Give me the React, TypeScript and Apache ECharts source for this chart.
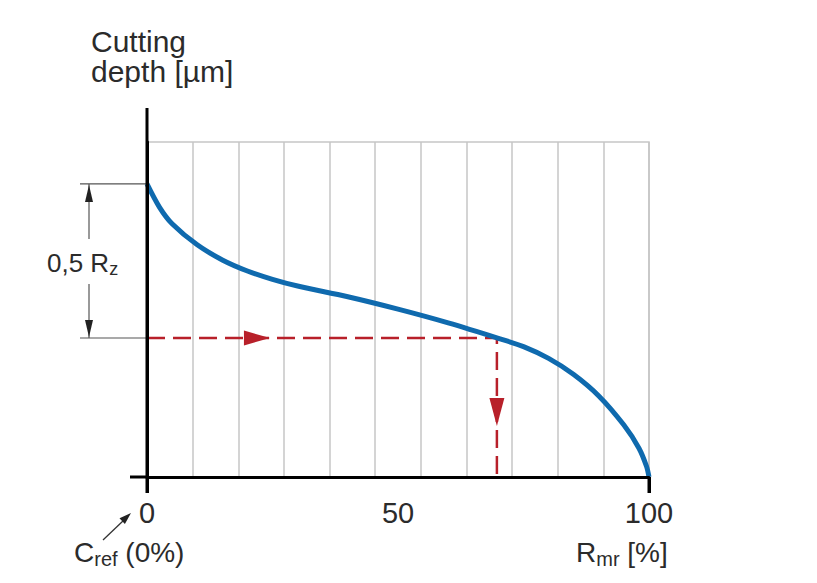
import React, { useEffect, useRef } from "react";
import * as echarts from "echarts";

// Curve: material ratio (%) vs. cutting depth (relative units, 0 = bottom)
const curveX = [0, 2.5, 5, 10, 15, 20, 25, 30, 40, 50, 60, 70, 75, 80, 85, 90, 95, 98, 99.5, 100];
const curveY = [87.5, 80.5, 75.6, 69.3, 64.8, 61.5, 59.0, 57.0, 53.8, 50.1, 46.0, 41.4, 38.9, 35.4, 30.6, 24.2, 15.5, 8.6, 3.2, 0];
const cutX = 69.7; // Rmr at reference cut
const cutY = 41.5; // reference cut depth (0,5 Rz below top)
const topY = 87.5; // top of profile
const arrowRightX = 21.9;
const arrowDownY = 19.4;
const xTicks = [0, 50, 100];
const gridColumns = 11;

const FONT = "'Liberation Sans', Arial, Helvetica, sans-serif";
const TXT = "#2b2b2b";
const RED = "#b8202a";
const BLUE = "#0f6aae";
const GRAY = "#c6c6c6";

export default function App() {
  const ref = useRef<HTMLDivElement>(null);
  useEffect(() => {
    if (!ref.current) return;
    const chart = echarts.init(ref.current, null, { renderer: "svg" });
    chart.setOption({
      animation: false,
      backgroundColor: "#ffffff",
      textStyle: { fontFamily: FONT, color: TXT },
      grid: {
        left: 147,
        top: 142,
        width: 502,
        height: 335,
        show: true,
        borderColor: GRAY,
        borderWidth: 1.5,
        backgroundColor: "transparent",
      },
      xAxis: [
        {
          type: "value",
          min: 0,
          max: 100,
          interval: 50,
          axisLine: { show: true, onZero: false, lineStyle: { color: "#000", width: 3 } },
          axisTick: { show: true, customValues: [xTicks[0], xTicks[2]], length: 16, lineStyle: { color: "#000", width: 3 } },
          axisLabel: { show: true, fontSize: 29, color: TXT, margin: 21, fontFamily: FONT, customValues: xTicks },
          splitLine: { show: false },
          z: 5,
        },
        {
          type: "value",
          min: 0,
          max: gridColumns,
          interval: 1,
          position: "bottom",
          axisLine: { show: false },
          axisTick: { show: false },
          axisLabel: { show: false },
          splitLine: { show: true, lineStyle: { color: GRAY, width: 1.5 } },
        },
      ],
      yAxis: {
        type: "value",
        min: 0,
        max: 100,
        axisLine: { show: true, onZero: false, lineStyle: { color: "#000", width: 3 } },
        axisTick: { show: false },
        axisLabel: { show: false },
        splitLine: { show: false },
        z: 5,
      },
      series: [
        {
          type: "line",
          name: "cut",
          xAxisIndex: 0,
          data: [[0, cutY], [cutX, cutY], [cutX, 0]],
          symbol: "none",
          silent: true,
          lineStyle: { color: RED, width: 2.5, type: [18, 8] },
          z: 2,
        },
        {
          type: "scatter",
          xAxisIndex: 0,
          silent: true,
          symbol: "triangle",
          itemStyle: { color: RED, opacity: 1 },
          data: [
            { value: [arrowRightX, cutY], symbolRotate: -90, symbolSize: [15, 26] },
            { value: [cutX, arrowDownY], symbolRotate: 180, symbolSize: [15, 28] },
          ],
          z: 3,
        },
        {
          type: "line",
          name: "curve",
          xAxisIndex: 0,
          data: curveX.map((x, i) => [x, curveY[i]]),
          smooth: 0.3,
          symbol: "none",
          silent: true,
          lineStyle: { color: BLUE, width: 5 },
          z: 4,
        },
      ],
    });

    const px = (x: number, y: number) =>
      chart.convertToPixel({ xAxisIndex: 0, yAxisIndex: 0 }, [x, y]) as number[];
    const o = px(0, 0);
    const t = px(0, topY);
    const c = px(0, cutY);
    const e = px(100, 0);
    const dimX = 89;
    const textY = 263;

    chart.setOption({
      graphic: [
        // axis extensions
        { type: "line", shape: { x1: o[0], y1: 108, x2: o[0], y2: o[1] + 16 }, style: { stroke: "#000", lineWidth: 3 }, z: 10 },
        { type: "line", shape: { x1: 130, y1: o[1], x2: o[0], y2: o[1] }, style: { stroke: "#000", lineWidth: 3 }, z: 10 },
        { type: "line", shape: { x1: e[0], y1: e[1], x2: e[0], y2: e[1] + 16 }, style: { stroke: "#000", lineWidth: 3 }, z: 10 },
        // dimension 0,5 Rz
        { type: "line", shape: { x1: 80, y1: t[1], x2: o[0], y2: t[1] }, style: { stroke: "#555", lineWidth: 1.2 } },
        { type: "line", shape: { x1: 80, y1: c[1], x2: o[0], y2: c[1] }, style: { stroke: "#555", lineWidth: 1.2 } },
        { type: "line", shape: { x1: dimX, y1: t[1], x2: dimX, y2: textY - 24 }, style: { stroke: "#555", lineWidth: 1.2 } },
        { type: "line", shape: { x1: dimX, y1: textY + 21, x2: dimX, y2: c[1] }, style: { stroke: "#555", lineWidth: 1.2 } },
        { type: "polygon", shape: { points: [[dimX, t[1] + 1], [dimX - 4, t[1] + 18], [dimX + 4, t[1] + 18]] }, style: { fill: "#222" } },
        { type: "polygon", shape: { points: [[dimX, c[1] - 1], [dimX - 4, c[1] - 18], [dimX + 4, c[1] - 18]] }, style: { fill: "#222" } },
        {
          type: "text",
          x: 47,
          y: textY,
          style: {
            text: "{a|0,5 R}{s|z}",
            verticalAlign: "middle",
            rich: {
              a: { fontSize: 26, fontFamily: FONT, fill: TXT, lineHeight: 30 },
              s: { fontSize: 18, fontFamily: FONT, fill: TXT, lineHeight: 18, verticalAlign: "bottom" },
            },
          },
        },
        // y title
        {
          type: "text",
          x: 91,
          y: 26,
          style: { text: "Cutting\ndepth [µm]", fontSize: 30, lineHeight: 30, fontFamily: FONT, fill: TXT, verticalAlign: "top" },
        },
        // C_ref label and arrow
        {
          type: "text",
          x: 74,
          y: 552,
          style: {
            text: "{a|C}{s|ref}{a| (0%)}",
            verticalAlign: "middle",
            rich: {
              a: { fontSize: 28, fontFamily: FONT, fill: TXT, lineHeight: 34 },
              s: { fontSize: 20, fontFamily: FONT, fill: TXT, lineHeight: 22, verticalAlign: "bottom" },
            },
          },
        },
        { type: "line", shape: { x1: 103, y1: 540, x2: 124, y2: 520 }, style: { stroke: "#333", lineWidth: 1.3 } },
        { type: "polygon", shape: { points: [[131, 513], [124.9, 524.1], [119.5, 518.3]] }, style: { fill: "#222" } },
        // x title
        {
          type: "text",
          x: 576,
          y: 552,
          style: {
            text: "{a|R}{s|mr}{a| [%]}",
            verticalAlign: "middle",
            rich: {
              a: { fontSize: 28, fontFamily: FONT, fill: TXT, lineHeight: 34 },
              s: { fontSize: 20, fontFamily: FONT, fill: TXT, lineHeight: 22, verticalAlign: "bottom" },
            },
          },
        },
      ],
    });

    return () => chart.dispose();
  }, []);
  return <div ref={ref} style={{ position: "fixed", left: 0, top: 0, width: 817, height: 583 }} />;
}
